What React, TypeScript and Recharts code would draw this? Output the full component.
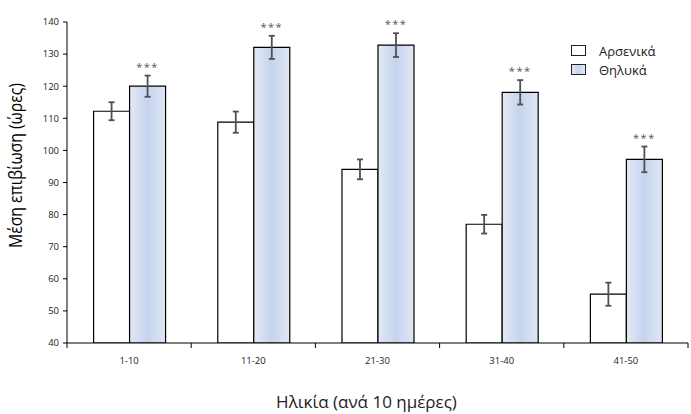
import { Bar, BarChart, ErrorBar, LabelList, XAxis, YAxis } from "recharts";

const AGE_GROUPS = ["1-10", "11-20", "21-30", "31-40", "41-50"];
const MALE = [112.2, 108.8, 94.1, 77, 55.2];
const MALE_ERR = [2.8, 3.3, 3.1, 2.9, 3.6];
const FEMALE = [120, 132.1, 132.8, 118.1, 97.2];
const FEMALE_ERR = [3.3, 3.6, 3.7, 3.8, 4];
const Y_TICKS = [40, 50, 60, 70, 80, 90, 100, 110, 120, 130, 140];

const Y_MIN = 40;
const Y_MAX = 140;
const FONT = "'Open Sans', 'Noto Sans', sans-serif";
const ERR_COLOR = "#505050";

const data = AGE_GROUPS.map((g, i) => ({
  group: g,
  male: MALE[i],
  maleErr: MALE_ERR[i],
  female: FEMALE[i],
  femaleErr: FEMALE_ERR[i],
}));

// category ticks drawn at the band edges, label in the middle
function XTick(props: any) {
  const { x, y, payload, index } = props;
  const off = payload?.offset ?? 0;
  return (
    <g>
      {index === 0 && <line x1={x - off} x2={x - off} y1={y} y2={y + 5} stroke="#000" />}
      <line x1={x + off} x2={x + off} y1={y} y2={y + 5} stroke="#000" />
      <text x={x} y={y + 21} textAnchor="middle" fontSize={9.5} fill="#222" fontFamily={FONT}>
        {payload.value}
      </text>
    </g>
  );
}

function Stars(props: any) {
  const { x, y, width, height, index } = props;
  const pxPerUnit = height / (FEMALE[index] - Y_MIN);
  const top = y - FEMALE_ERR[index] * pxPerUnit;
  return (
    <text
      x={x + width / 2}
      y={top - 5}
      textAnchor="middle"
      fontSize={11}
      fill="#555"
      fontFamily={FONT}
      style={{ letterSpacing: "1.5px" }}
    >
      ***
    </text>
  );
}

function Legend() {
  const row = (label: string, fill: string) => (
    <div style={{ display: "flex", alignItems: "center", height: 19 }}>
      <span
        style={{
          display: "inline-block",
          width: 13,
          height: 9,
          border: "1px solid #222",
          background: fill,
          marginRight: 13,
        }}
      />
      <span style={{ fontSize: 13, color: "#222", fontFamily: FONT }}>{label}</span>
    </div>
  );
  return (
    <div style={{ position: "absolute", left: 571, top: 41 }}>
      {row("Αρσενικά", "#fff")}
      {row("Θηλυκά", "linear-gradient(90deg,#e2e8f5,#c6d4ee,#e2e8f5)")}
    </div>
  );
}

export default function App() {
  return (
    <div style={{ position: "absolute", left: 0, top: 0, width: 691, height: 414, background: "#fff" }}>
      <BarChart
        width={691}
        height={414}
        data={data}
        margin={{ top: 22, right: 3, left: 0, bottom: 0 }}
        barCategoryGap="21.4%"
        barGap={0}
      >
        <defs>
          <linearGradient id="femGrad" x1="0" y1="0" x2="1" y2="0">
            <stop offset="0%" stopColor="#e3e9f5" />
            <stop offset="50%" stopColor="#c5d4ee" />
            <stop offset="100%" stopColor="#e0e7f4" />
          </linearGradient>
        </defs>
        <XAxis
          dataKey="group"
          height={71}
          tickSize={0}
          tickMargin={0}
          tickLine={false}
          axisLine={{ stroke: "#000" }}
          tick={<XTick />}
          interval={0}
          label={({ viewBox }: any) => (
            <text
              x={viewBox.x + viewBox.width / 2 - 11}
              y={viewBox.y + 65}
              textAnchor="middle"
              fontSize={17}
              fill="#222"
              fontFamily={FONT}
            >
              Ηλικία (ανά 10 ημέρες)
            </text>
          )}
        />
        <YAxis
          width={67}
          domain={[Y_MIN, Y_MAX]}
          ticks={Y_TICKS}
          interval={0}
          tickSize={4}
          tickMargin={4}
          axisLine={{ stroke: "#000" }}
          tickLine={{ stroke: "#000" }}
          tick={{ fontSize: 9.5, fill: "#222", fontFamily: FONT }}
          allowDataOverflow
          label={({ viewBox }: any) => {
            const cx = 15;
            const cy = viewBox.y + viewBox.height / 2 - 17;
            return (
              <text
                x={cx}
                y={cy}
                transform={`rotate(-90 ${cx} ${cy})`}
                textAnchor="middle"
                dominantBaseline="central"
                fontSize={18}
                textLength={165}
                lengthAdjust="spacingAndGlyphs"
                fill="#000"
                fontFamily={FONT}
              >
                Μέση επιβίωση (ώρες)
              </text>
            );
          }}
        />
        <Bar dataKey="male" name="Αρσενικά" fill="#fff" stroke="#000" strokeWidth={1.2} isAnimationActive={false}>
          <ErrorBar dataKey="maleErr" width={3} stroke={ERR_COLOR} strokeWidth={1.8} />
        </Bar>
        <Bar dataKey="female" name="Θηλυκά" fill="url(#femGrad)" stroke="#000" strokeWidth={1.2} isAnimationActive={false}>
          <ErrorBar dataKey="femaleErr" width={3} stroke={ERR_COLOR} strokeWidth={1.8} />
          <LabelList dataKey="female" content={<Stars />} />
        </Bar>
      </BarChart>
      <Legend />
    </div>
  );
}
